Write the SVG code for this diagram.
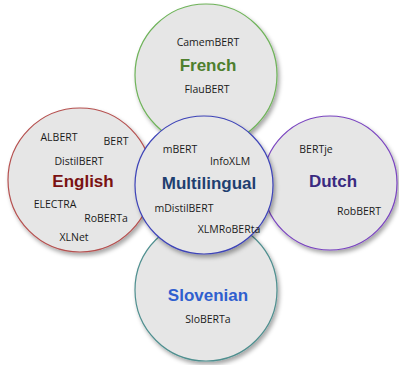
<svg xmlns="http://www.w3.org/2000/svg" width="399" height="365" viewBox="0 0 399 365">
<defs>
<filter id="sh" x="-20%" y="-20%" width="150%" height="150%">
<feDropShadow dx="2" dy="3" stdDeviation="2" flood-color="#000" flood-opacity="0.35"/>
</filter>
</defs>
<style>
.c{fill:#e6e6e6;stroke-width:1.2;filter:url(#sh)}
.s{font-family:"Open Sans","DejaVu Sans",sans-serif;font-size:10.5px;fill:#1a1a1a;text-anchor:middle}
.t{font-family:"Liberation Sans",Arial,sans-serif;font-size:17px;font-weight:bold;text-anchor:middle}
</style>
<rect width="399" height="365" fill="#ffffff"/>
<g id="connectors"></g>
<g id="french">
<circle class="c" cx="206" cy="75" r="71" stroke="#6fb35a"/>
<text class="s" x="208" y="46">CamemBERT</text>
<text class="t" x="208" y="71" fill="#4e7f2e">French</text>
<text class="s" x="207" y="93">FlauBERT</text>
</g>
<g id="english">
<circle class="c" cx="80" cy="180" r="72" stroke="#b5504f"/>
<text class="s" x="59" y="141">ALBERT</text>
<text class="s" x="116" y="145">BERT</text>
<text class="s" x="79" y="165">DistilBERT</text>
<text class="t" x="83" y="187" fill="#7a1212">English</text>
<text class="s" x="55" y="208">ELECTRA</text>
<text class="s" x="106" y="222">RoBERTa</text>
<text class="s" x="74" y="241">XLNet</text>
</g>
<g id="dutch">
<circle class="c" cx="330" cy="183" r="67" stroke="#7a45c0"/>
<text class="s" x="316" y="153">BERTje</text>
<text class="t" x="333" y="187" fill="#3a2a80">Dutch</text>
<text class="s" x="359" y="215">RobBERT</text>
</g>
<g id="slovenian">
<circle class="c" cx="206" cy="290" r="71" stroke="#4f8f8f"/>
<text class="t" x="208" y="301" fill="#2f5fcf">Slovenian</text>
<text class="s" x="208" y="323">SloBERTa</text>
</g>
<g id="multilingual">
<circle class="c" cx="204" cy="185" r="69" stroke="#3e44b8"/>
<text class="s" x="180" y="153">mBERT</text>
<text class="s" x="230" y="165">InfoXLM</text>
<text class="t" x="209" y="189" fill="#1f3f70">Multilingual</text>
<text class="s" x="184" y="212">mDistilBERT</text>
<text class="s" x="229" y="233">XLMRoBERta</text>
</g>
</svg>
